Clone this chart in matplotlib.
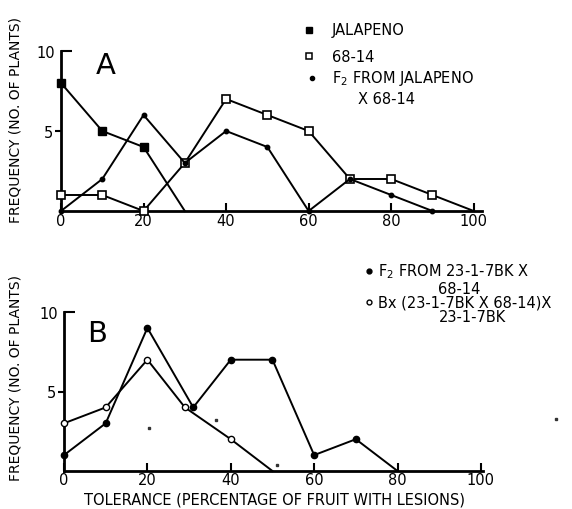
import matplotlib
matplotlib.use("Agg")
import matplotlib.pyplot as plt
from matplotlib.lines import Line2D

plt.rcParams['font.family'] = ['DejaVu Sans']
plt.rcParams['mathtext.fontset'] = 'dejavusans'

# panel A: tolerance classes (% fruit with lesions) and plant counts
a_x = [0, 10, 20, 30, 40, 50, 60, 70, 80, 90, 100]
jalapeno_x = [0, 10, 20, 30]
jalapeno_y = [8, 5, 4, 0]
p6814_y = [1, 1, 0, 3, 7, 6, 5, 2, 2, 1, 0]
f2a_x = [0, 10, 20, 30, 40, 50, 60, 70, 80, 90]
f2a_y = [0, 2, 6, 3, 5, 4, 0, 2, 1, 0]

# panel B
f2b_x = [0, 10, 20, 31, 40, 50, 60, 70, 80]
f2b_y = [1, 3, 9, 4, 7, 7, 1, 2, 0]
bx_x = [0, 10, 20, 29, 40, 50]
bx_y = [3, 4, 7, 4, 2, 0]
specks_x = [20.5, 36.5, 51, 118]
specks_y = [2.7, 3.2, 0.4, 3.3]

W, H = 572, 510
fig = plt.figure(figsize=(W / 100, H / 100), dpi=100)


def fx(px):
    return px / W


def fy(py):
    return 1 - py / H


def style_axes(ax, xmax):
    ax.set_xlim(0, xmax)
    ax.set_ylim(0, 10)
    for s in ['top', 'right']:
        ax.spines[s].set_visible(False)
    for s in ['left', 'bottom']:
        ax.spines[s].set_linewidth(2)
    ax.set_xticks([0, 20, 40, 60, 80, 100])
    ax.set_yticks([5])
    ax.set_yticks([10], minor=True)
    ax.set_yticklabels(['10'], minor=True)
    ax.tick_params(axis='x', direction='in', length=6, width=1.5, pad=1.5, labelsize=10.5)
    ax.tick_params(axis='y', which='major', direction='out', length=4, width=1.5, pad=2, labelsize=10.5)
    ax.tick_params(axis='y', which='minor', direction='in', length=8, width=1.5, pad=4, labelsize=10.5)
    ax.patch.set_visible(False)


# ---- panel A
axA = fig.add_axes([fx(61), fy(212), fx(421), 160 / H])
style_axes(axA, 102)
axA.plot(jalapeno_x, jalapeno_y, color='black', lw=1.4, marker='s', ms=6,
         mfc='black', markevery=[0, 1, 2], clip_on=False, zorder=3)
axA.plot(a_x, p6814_y, color='black', lw=1.4, marker='s', ms=6, mfc='white',
         mec='black', mew=1.2, markevery=list(range(10)), clip_on=False, zorder=3)
axA.plot(f2a_x, f2a_y, color='black', lw=1.4, marker='o', ms=3.2,
         clip_on=False, zorder=4)
axA.text(0.105, 0.915, 'A', transform=axA.transAxes, fontsize=21, ha='center', va='center')

# ---- panel B
axB = fig.add_axes([fx(64), fy(472), fx(419), 159 / H])
style_axes(axB, 100.5)
axB.tick_params(axis='x', pad=0.5)
axB.plot(f2b_x, f2b_y, color='black', lw=1.4, marker='o', ms=4.5,
         markevery=list(range(8)), clip_on=False, zorder=3)
axB.plot(bx_x, bx_y, color='black', lw=1.4, marker='o', ms=4.5, mfc='white',
         mew=1.0, markevery=list(range(5)), clip_on=False, zorder=3)
axB.plot(specks_x, specks_y, ls='none', marker='s', ms=1.6, color='#333333', clip_on=False)
axB.text(0.08, 0.87, 'B', transform=axB.transAxes, fontsize=21, ha='center', va='center')

# axis labels
fig.text(fx(16), fy(120), 'FREQUENCY (NO. OF PLANTS)', rotation=90,
         ha='center', va='center', fontsize=10)
fig.text(fx(16), fy(378), 'FREQUENCY (NO. OF PLANTS)', rotation=90,
         ha='center', va='center', fontsize=10)
fig.text(fx(274), fy(500), 'TOLERANCE (PERCENTAGE OF FRUIT WITH LESIONS)',
         ha='center', va='center', fontsize=10.5)


def key(px, py, **kw):
    fig.add_artist(Line2D([fx(px)], [fy(py)], transform=fig.transFigure,
                          color='black', ls='none', **kw))


# legend A
key(309, 31, marker='s', ms=5, mfc='black')
key(309, 57, marker='s', ms=5, mfc='white', mew=1.1)
key(312, 79, marker='o', ms=3)
fig.text(fx(332), fy(31), 'JALAPENO', va='center', fontsize=10.5)
fig.text(fx(332), fy(57), '68-14', va='center', fontsize=10.5)
fig.text(fx(332), fy(79), 'F$_2$ FROM JALAPENO', va='center', fontsize=10.5)
fig.text(fx(358), fy(100), 'X 68-14', va='center', fontsize=10.5)

# legend B
key(369, 272, marker='o', ms=3.5)
key(369, 303, marker='o', ms=3.5, mfc='white', mew=1)
fig.text(fx(378), fy(272), 'F$_2$ FROM 23-1-7BK X', va='center', fontsize=10.5)
fig.text(fx(459), fy(289), '68-14', va='center', ha='center', fontsize=10.5)
fig.text(fx(378), fy(303), 'Bx (23-1-7BK X 68-14)X', va='center', fontsize=10.5)
fig.text(fx(472), fy(318), '23-1-7BK', va='center', ha='center', fontsize=10.5)

fig.savefig('out.png', dpi=100)
